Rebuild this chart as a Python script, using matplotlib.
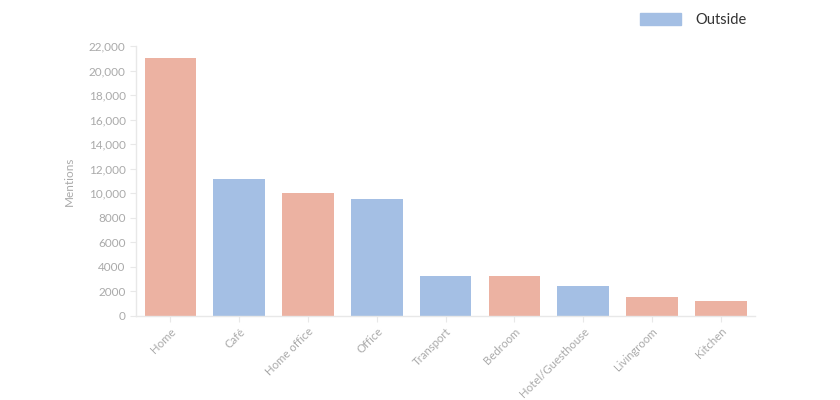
import matplotlib.pyplot as plt
from matplotlib.patches import Patch
from matplotlib.ticker import FuncFormatter

places = ['Home', 'Café', 'Home office', 'Office', 'Transport', 'Bedroom',
          'Hotel/Guesthouse', 'Livingroom', 'Kitchen']
mentions = [21000, 11150, 10000, 9550, 3280, 3280, 2480, 1580, 1250]
outside = [False, True, False, True, True, False, True, False, False]

pink = '#ecb2a2'
blue = '#a4bfe4'
grey = '#aaaaaa'
light = '#e8e8e8'

plt.rcParams['font.family'] = ['Lato', 'DejaVu Sans']

fig = plt.figure(figsize=(8.4, 4), dpi=100)
ax = fig.add_axes([0.162, 0.21, 0.737, 0.675])

colors = [blue if o else pink for o in outside]
ax.bar(range(len(places)), mentions, width=0.75, color=colors)

ax.set_xlim(-0.5, len(places) - 0.5)
ax.set_ylim(0, 22000)
ax.set_yticks(range(0, 22001, 2000))
ax.yaxis.set_major_formatter(FuncFormatter(
    lambda v, p: f'{int(v):,}' if v >= 10000 else f'{int(v)}'))

ax.set_xticks(range(len(places)))
ax.set_xticklabels(places, rotation=45, ha='right', rotation_mode='anchor')

for s in ['top', 'right']:
    ax.spines[s].set_visible(False)
for s in ['left', 'bottom']:
    ax.spines[s].set_color(light)
    ax.spines[s].set_linewidth(1)
ax.tick_params(axis='y', colors=light, labelcolor=grey, labelsize=8.5, length=4)
ax.tick_params(axis='x', colors=light, labelcolor=grey, labelsize=8.2, length=4, pad=3)

ax.set_ylabel('Mentions', color=grey, fontsize=8.5, labelpad=10)

fig.legend(handles=[Patch(color=blue, label='Outside')], loc='upper right',
           bbox_to_anchor=(0.905, 1.0), frameon=False, fontsize=10.5,
           handlelength=2.8, handleheight=0.8, handletextpad=1.0,
           labelcolor='#333333')

fig.savefig('out.png', dpi=100, facecolor='white')
